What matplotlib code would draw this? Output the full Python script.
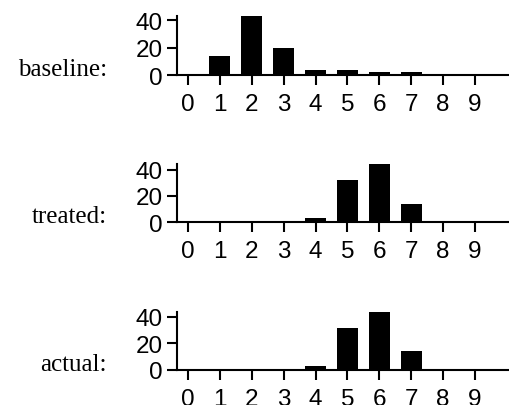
import matplotlib
matplotlib.use("Agg")
import matplotlib.pyplot as plt
from matplotlib.transforms import blended_transform_factory

bins = [0, 1, 2, 3, 4, 5, 6, 7, 8, 9]
baseline = [0, 14, 43, 20, 4, 4, 2, 2, 0, 0]
treated = [0, 0, 0, 0, 3, 32, 44, 14, 0, 0]
actual = [0, 0, 0, 0, 3, 32, 44, 14, 0, 0]

names = ["baseline:", "treated:", "actual:"]
series = [baseline, treated, actual]
yticks = [0, 20, 40]

plt.rcParams['font.family'] = ['Liberation Sans', 'DejaVu Sans']

fig = plt.figure(figsize=(5.10, 4.06), dpi=100)

bottoms = [0.8128, 0.450, 0.0869]
heights = [0.1453, 0.1429, 0.1429]

for name, vals, b, h in zip(names, series, bottoms, heights):
    ax = fig.add_axes([0.347, b, 0.653, h])
    ax.bar(bins, vals, width=0.65, color='black')
    ax.set_xlim(-0.345, 10.1)
    ax.set_ylim(0, max(vals))
    ax.set_xticks(bins)
    ax.set_yticks(yticks)
    ax.spines['top'].set_visible(False)
    ax.spines['right'].set_visible(False)
    for s in ['left', 'bottom']:
        ax.spines[s].set_linewidth(1.5)
    ax.tick_params(axis='both', length=7, width=1.5, labelsize=17.5, color='black')
    ax.tick_params(axis='x', pad=6)
    ax.tick_params(axis='y', pad=3)
    tr = blended_transform_factory(ax.transAxes, ax.transData)
    ax.text(-0.211, 0, name, transform=tr, ha='right', va='baseline',
            family='Liberation Serif', fontsize=18)

fig.savefig("out.png", dpi=100)
